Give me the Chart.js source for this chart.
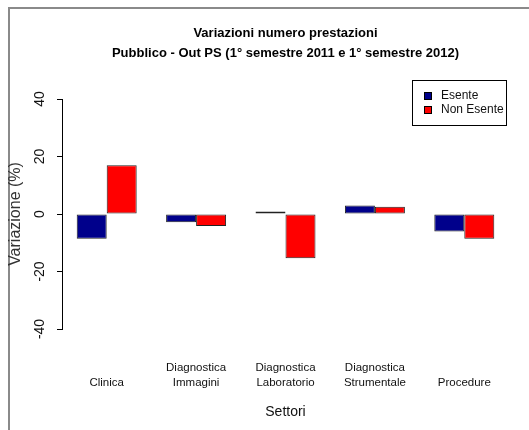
<!DOCTYPE html>
<html>
<head>
<meta charset="utf-8">
<script src="https://cdn.jsdelivr.net/npm/chart.js@4"></script>
<style>
  html, body { margin: 0; padding: 0; background: #fff; }
</style>
</head>
<body>
<canvas id="chart" width="529" height="430"></canvas>
<script>
// === data ===
const categories = [
  ["", "Clinica"],
  ["Diagnostica", "Immagini"],
  ["Diagnostica", "Laboratorio"],
  ["Diagnostica", "Strumentale"],
  ["", "Procedure"]
];
const seriesNames = ["Esente", "Non Esente"];
const esente = [-8.6, -2.9, 0.9, 3.0, -6.1];
const nonEsente = [17.0, -4.2, -15.4, 2.5, -8.6];
const yTicks = [-40, -20, 0, 20, 40];

const FONT = "'Liberation Sans', Arial, sans-serif";

// grey frame round the plot (top and left edges only)
const framePlugin = {
  id: "frame",
  beforeDraw(chart) {
    const ctx = chart.ctx;
    ctx.save();
    ctx.fillStyle = "#fff";
    ctx.fillRect(0, 0, chart.width, chart.height);
    ctx.strokeStyle = "#8a8a8a";
    ctx.lineWidth = 2;
    ctx.beginPath();
    ctx.moveTo(9, chart.height);
    ctx.lineTo(9, 8);
    ctx.lineTo(chart.width, 8);
    ctx.stroke();
    ctx.restore();
  }
};

// boxed legend in the top-right corner, like R's legend()
const boxLegendPlugin = {
  id: "boxLegend",
  afterDraw(chart) {
    const ctx = chart.ctx;
    const x0 = 412, y0 = 80, w = 94, h = 45;
    ctx.save();
    ctx.fillStyle = "#fff";
    ctx.fillRect(x0, y0, w, h);
    ctx.strokeStyle = "#000";
    ctx.lineWidth = 1;
    ctx.strokeRect(x0 + 0.5, y0 + 0.5, w, h);
    ctx.font = "12px " + FONT;
    ctx.textBaseline = "middle";
    chart.data.datasets.forEach((ds, i) => {
      const cy = y0 + 16 + i * 14;
      ctx.fillStyle = ds.backgroundColor;
      ctx.fillRect(x0 + 12, cy - 4, 8, 8);
      ctx.strokeStyle = "#000";
      ctx.strokeRect(x0 + 12.5, cy - 3.5, 7, 7);
      ctx.fillStyle = "#111";
      ctx.fillText(ds.label, x0 + 29, cy);
    });
    ctx.restore();
  }
};

const ctx = document.getElementById("chart").getContext("2d");

new Chart(ctx, {
  type: "bar",
  data: {
    labels: categories,
    datasets: [
      {
        label: seriesNames[0],
        data: esente,
        backgroundColor: "#00008B",
        borderColor: "#222",
        borderWidth: 1,
        borderSkipped: false
      },
      {
        label: seriesNames[1],
        data: nonEsente,
        backgroundColor: "#FF0000",
        borderColor: "#222",
        borderWidth: 1,
        borderSkipped: false
      }
    ]
  },
  options: {
    responsive: false,
    animation: false,
    devicePixelRatio: 1,
    categoryPercentage: 0.671,
    barPercentage: 1,
    layout: { autoPadding: false, padding: { left: 0, right: 20, top: 0, bottom: 0 } },
    plugins: {
      legend: { display: false },
      tooltip: { enabled: false },
      title: {
        display: true,
        fullSize: false,
        text: ["Variazioni numero prestazioni", "Pubblico - Out PS (1° semestre 2011 e 1° semestre 2012)"],
        color: "#000",
        font: { family: FONT, size: 13, weight: "bold", lineHeight: "20px" },
        padding: { top: 23, bottom: 36 }
      }
    },
    scales: {
      x: {
        grid: { display: false, drawTicks: false },
        border: { display: false },
        ticks: {
          color: "#111",
          font: { family: FONT, size: 11.5, lineHeight: 1.3 },
          padding: 31,
          maxRotation: 0,
          autoSkip: false
        },
        title: {
          display: true,
          text: "Settori",
          color: "#111",
          font: { family: FONT, size: 14 },
          padding: { top: 0, bottom: 9 }
        },
        afterFit(scale) { scale.height = 101; }
      },
      y: {
        min: -40,
        max: 40,
        afterBuildTicks(scale) {
          scale.ticks = yTicks.map((v) => ({ value: v }));
        },
        grid: {
          display: true,
          drawOnChartArea: false,
          drawTicks: true,
          tickLength: 5,
          color: "#000"
        },
        border: { display: true, color: "#000", width: 1 },
        ticks: {
          color: "#111",
          font: { family: FONT, size: 14 },
          minRotation: 90,
          maxRotation: 90,
          crossAlign: "center",
          padding: 7
        },
        title: {
          display: true,
          text: "Variazione (%)",
          color: "#333",
          font: { family: FONT, size: 16 },
          padding: { top: 6, bottom: 0 }
        },
        afterFit(scale) { scale.width = 62; }
      }
    }
  },
  plugins: [framePlugin, boxLegendPlugin]
});
</script>
</body>
</html>
